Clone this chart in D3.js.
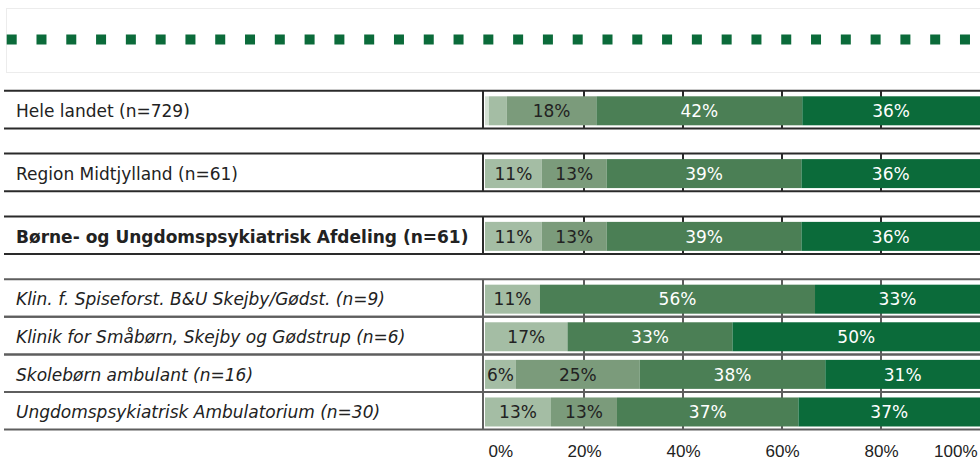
<!DOCTYPE html>
<html lang="en">
<head>
    <meta charset="UTF-8">
    <title>Stacked bars</title>
    <script src="https://cdn.jsdelivr.net/npm/d3@7"></script>
    <style>
        body { margin: 0; background: #fff; }
        svg { display: block; font-family: "DejaVu Sans", Verdana, sans-serif; }
    </style>
</head>
<body>
    <script>
        // rows, n in the label; group is used for the gaps between blocks
        var categories = [
            'Hele landet (n=729)',
            'Region Midtjylland (n=61)',
            'Børne- og Ungdomspsykiatrisk Afdeling (n=61)',
            'Klin. f. Spiseforst. B&U Skejby/Gødst. (n=9)',
            'Klinik for Småbørn, Skejby og Gødstrup (n=6)',
            'Skolebørn ambulant (n=16)',
            'Ungdomspsykiatrisk Ambulatorium (n=30)'
        ];
        var groups = [0, 1, 2, 3, 3, 3, 3];

        // shares in percent, one array per answer category (lightest to darkest)
        var series1 = [0.8, 0, 0, 0, 0, 0, 0];
        var series2 = [3.6, 11.48, 11.48, 11.11, 16.67, 6.25, 13.33];
        var series3 = [18.1, 13.11, 13.11, 0, 0, 25, 13.33];
        var series4 = [41.6, 39.34, 39.34, 55.56, 33.33, 37.5, 36.67];
        var series5 = [35.9, 36.07, 36.07, 33.33, 50, 31.25, 36.67];

        var tickValues = [0, 20, 40, 60, 80, 100];
        var tickLabels = ['0%', '20%', '40%', '60%', '80%', '100%'];

        var w = 980;
        var h = 462;
        var colors = ['#d3e0d3', '#a4bda4', '#7b9b7b', '#4b7f55', '#0b6b3a'];
        var textColors = ['#222', '#222', '#222', '#fff', '#fff'];

        var seriesList = [series1, series2, series3, series4, series5];

        // build rows for d3.stack
        var table = categories.map(function(c, i) {
            var row = { name: c, group: groups[i], index: i };
            seriesList.forEach(function(s, k) { row['s' + k] = s[i]; });
            return row;
        });
        var keys = seriesList.map(function(s, k) { return 's' + k; });
        var stacked = d3.stack().keys(keys)(table);

        var svg = d3.select('body')
                    .append('svg')
                    .attr('width', w)
                    .attr('height', h);

        // x scale, 0% at the table split, 100% at the right edge
        var xScale = d3.scaleLinear()
                        .domain([0, 100])
                        .range([485, 980]);

        // y: one slot per row, a spacer of 0.67 slot between the blocks
        var spacer = 0.67;
        var rowH = 37.6;
        var yTop = 90.8;
        var yScale = d3.scaleLinear()
                        .domain([0, 1])
                        .range([yTop, yTop + rowH]);
        function rowTop(d) {
            return yScale(d.index + d.group * spacer);
        }
        function lineColor(d) {
            return d.group < 3 ? '#2a2a2a' : '#5e5e5e';
        }

        // top box with the dotted line
        svg.append('rect')
            .attr('x', 6.5)
            .attr('y', 8.5)
            .attr('width', 990)
            .attr('height', 64)
            .attr('fill', 'none')
            .attr('stroke', '#ececec');

        svg.append('line')
            .attr('x1', 6.7)
            .attr('x2', 971)
            .attr('y1', 39.5)
            .attr('y2', 39.5)
            .attr('stroke', '#0b6b3a')
            .attr('stroke-width', 10)
            .attr('stroke-dasharray', '10 19.79');

        var rows = svg.append('g')
                      .attr('class', 'rows')
                      .selectAll('g')
                      .data(table)
                      .enter()
                      .append('g');

        // vertical grid lines inside each row
        rows.selectAll('line.grid')
            .data(function(d) {
                return [20, 40, 60, 80].map(function(v) { return { v: v, row: d }; });
            })
            .enter()
            .append('line')
            .attr('class', 'grid')
            .attr('x1', function(d) { return xScale(d.v); })
            .attr('x2', function(d) { return xScale(d.v); })
            .attr('y1', function(d) { return rowTop(d.row); })
            .attr('y2', function(d) { return rowTop(d.row) + rowH; })
            .attr('stroke', function(d) { return lineColor(d.row); })
            .attr('stroke-width', 2);

        // stacked segments
        var layers = svg.append('g')
                        .attr('class', 'bars')
                        .selectAll('g')
                        .data(stacked)
                        .enter()
                        .append('g')
                        .attr('fill', function(d, i) { return colors[i]; });

        layers.selectAll('rect')
            .data(function(d) { return d; })
            .enter()
            .append('rect')
            .attr('x', function(d) { return xScale(d[0]); })
            .attr('width', function(d) { return xScale(d[1]) - xScale(d[0]); })
            .attr('y', function(d) { return rowTop(d.data) + 5.5; })
            .attr('height', 29);

        // value labels, hidden for small shares
        layers.selectAll('text')
            .data(function(d) { return d; })
            .enter()
            .filter(function(d) { return d[1] - d[0] >= 5; })
            .append('text')
            .attr('x', function(d) { return (xScale(d[0]) + xScale(d[1])) / 2; })
            .attr('y', function(d) { return rowTop(d.data) + 20; })
            .attr('dy', '0.37em')
            .attr('text-anchor', 'middle')
            .attr('font-size', 17)
            .attr('fill', function() {
                return textColors[keys.indexOf(d3.select(this.parentNode).datum().key)];
            })
            .text(function(d) { return Math.round(d[1] - d[0]) + '%'; });

        // table lines and row labels
        rows.append('line')
            .attr('x1', 4)
            .attr('x2', w)
            .attr('y1', function(d) { return rowTop(d); })
            .attr('y2', function(d) { return rowTop(d); })
            .attr('stroke', lineColor)
            .attr('stroke-width', 2);

        rows.append('line')
            .attr('x1', 4)
            .attr('x2', w)
            .attr('y1', function(d) { return rowTop(d) + rowH; })
            .attr('y2', function(d) { return rowTop(d) + rowH; })
            .attr('stroke', lineColor)
            .attr('stroke-width', 2);

        rows.append('line')
            .attr('x1', 483)
            .attr('x2', 483)
            .attr('y1', function(d) { return rowTop(d); })
            .attr('y2', function(d) { return rowTop(d) + rowH; })
            .attr('stroke', lineColor)
            .attr('stroke-width', 2);

        rows.append('text')
            .attr('x', 16)
            .attr('y', function(d) { return rowTop(d) + 20; })
            .attr('dy', '0.37em')
            .attr('font-size', 17)
            .attr('fill', '#222')
            .attr('font-weight', function(d) { return d.index === 2 ? 'bold' : 'normal'; })
            .attr('font-style', function(d) { return d.group === 3 ? 'italic' : 'normal'; })
            .text(function(d) { return d.name; });

        // x axis labels, outer ones kept inside the plot
        var xAxis = d3.axisBottom(xScale)
                      .tickValues(tickValues)
                      .tickSize(0)
                      .tickPadding(3)
                      .tickFormat(function(d, i) { return tickLabels[i]; });

        var axisG = svg.append('g')
                       .attr('class', 'x axis')
                       .attr('transform', 'translate(0,442)')
                       .call(xAxis);
        axisG.select('.domain').remove();
        axisG.selectAll('text')
             .attr('font-size', 17)
             .attr('font-family', null)
             .attr('fill', '#222')
             .attr('text-anchor', function(d) {
                 return d === 0 ? 'start' : (d === 100 ? 'end' : 'middle');
             })
             .attr('x', function(d) {
                 return d === 0 ? 3 : (d === 100 ? -3 : 0);
             });
    </script>
</body>
</html>
